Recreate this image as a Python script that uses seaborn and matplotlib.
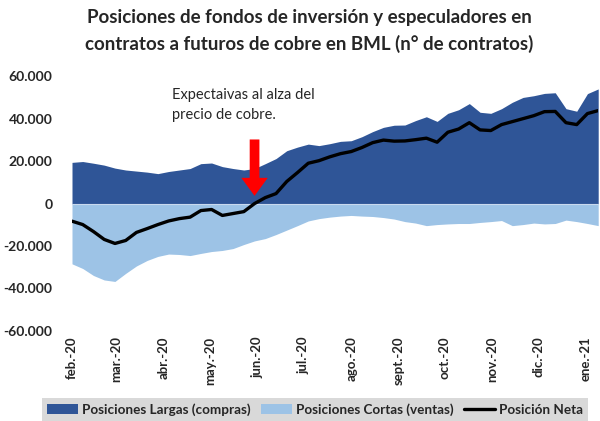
import seaborn as sns
import matplotlib.pyplot as plt
import matplotlib.ticker as mticker
import pandas as pd
import numpy as np

# weekly data, feb-2020 .. ene-2021 (n° de contratos)
largas = [19400, 19800, 19000, 18100, 16700, 15800, 15300, 14800, 14100, 15100,
          15800, 16500, 18800, 19100, 17400, 16500, 15800, 16500, 18800, 21200,
          24900, 26600, 28000, 27300, 28200, 29300, 29600, 31500, 33900, 35900,
          36900, 37000, 39100, 40900, 38700, 42500, 44200, 47100, 43000, 42500,
          44700, 47700, 50000, 50800, 51900, 52200, 44700, 43500, 51800, 54000]
cortas = [-28400, -30600, -33900, -36000, -36700, -32900, -29400, -26800, -24900, -23800,
          -24000, -24500, -23500, -22600, -22100, -21200, -19300, -17600, -16500, -14600,
          -12500, -10400, -8200, -7100, -6400, -5900, -5600, -5900, -6100, -6600,
          -7300, -8500, -9200, -10400, -9900, -9600, -9400, -9400, -8900, -8500,
          -8000, -10400, -9900, -9200, -9600, -9400, -7800, -8500, -9400, -10400]
neta = [-8300, -9900, -13200, -16900, -18800, -17400, -13600, -11800, -9900, -8200,
        -7100, -6400, -3300, -2800, -5600, -4700, -3800, 0, 2800, 4700,
        10400, 14600, 19000, 20200, 22000, 23500, 24500, 26400, 28700, 29900,
        29400, 29500, 30100, 30800, 28900, 33600, 35100, 38100, 34700, 34400,
        37200, 38600, 40000, 41400, 43300, 43400, 38100, 37200, 42400, 43800]
fechas = pd.date_range("2020-02-04", periods=len(neta), freq="7D")
meses = ["feb.-20", "mar.-20", "abr.-20", "may.-20", "jun.-20", "jul.-20",
         "ago.-20", "sept.-20", "oct.-20", "nov.-20", "dic.-20", "ene.-21"]
ticks_meses = pd.date_range("2020-02-04", periods=len(meses), freq=pd.DateOffset(months=1))

df = pd.DataFrame({"fecha": fechas, "largas": largas, "cortas": cortas, "neta": neta})

sns.set_style("white")
plt.rcParams["font.family"] = ["Lato", "DejaVu Sans"]

dark = "#2F5597"
light = "#9DC3E6"

fig = plt.figure(figsize=(6, 4.21), dpi=100)
ax = fig.add_axes([0.12, 0.214, 0.877, 0.605])

ax.fill_between(df["fecha"], 0, df["largas"], color=dark, lw=0,
                label="Posiciones Largas (compras)")
ax.fill_between(df["fecha"], 0, df["cortas"], color=light, lw=0,
                label="Posiciones Cortas (ventas)")
ax.axhline(0, color="#c9d9ee", lw=0.8)
sns.lineplot(data=df, x="fecha", y="neta", ax=ax, color="black", lw=2.4,
             label="Posición Neta")

ax.set_xlim(fechas[0], fechas[-1])
ax.set_ylim(-60000, 60000)
ax.set_yticks(range(-60000, 60001, 20000))
ax.yaxis.set_major_formatter(mticker.FuncFormatter(
    lambda v, p: f"{int(v):,}".replace(",", ".")))
ax.set_xticks(ticks_meses)
ax.set_xticklabels(meses, rotation=90, fontweight="bold", fontsize=9.5)
for t in ax.get_yticklabels():
    t.set_fontweight("bold")
    t.set_fontsize(10)
ax.tick_params(axis="y", length=0, pad=14)
ax.tick_params(axis="x", length=0, pad=4)
ax.set_xlabel("")
ax.set_ylabel("")
for s in ax.spines.values():
    s.set_visible(False)

fig.suptitle("Posiciones de fondos de inversión y especuladores en\n"
             "contratos a futuros de cobre en BML (n° de contratos)",
             x=0.515, y=0.978, fontsize=13.5, fontweight="bold", linespacing=1.55)

# annotation with red arrow
ax.annotate("", xy=(fechas[17], 2300), xytext=(fechas[17], 31500),
            arrowprops=dict(arrowstyle="simple,head_width=1.9,head_length=1.3,tail_width=0.7",
                            color="#ff0000", lw=0))
ax.text(fechas[9] + pd.Timedelta(days=2), 38500, "Expectaivas al alza del\nprecio de cobre.",
        fontsize=10.5, va="bottom", ha="left", linespacing=1.55, color="#262626")

ax.get_legend().remove()
h, l = ax.get_legend_handles_labels()
leg = fig.legend(h, l, loc="lower center", ncol=3, bbox_to_anchor=(0.525, -0.015),
                 frameon=True, facecolor="#d9d9d9", edgecolor="none", fancybox=False,
                 framealpha=1, prop={"weight": "bold", "size": 9.7},
                 handlelength=2.3, handletextpad=0.3, columnspacing=0.8,
                 borderpad=0.35)

fig.savefig("out.png", dpi=100)
